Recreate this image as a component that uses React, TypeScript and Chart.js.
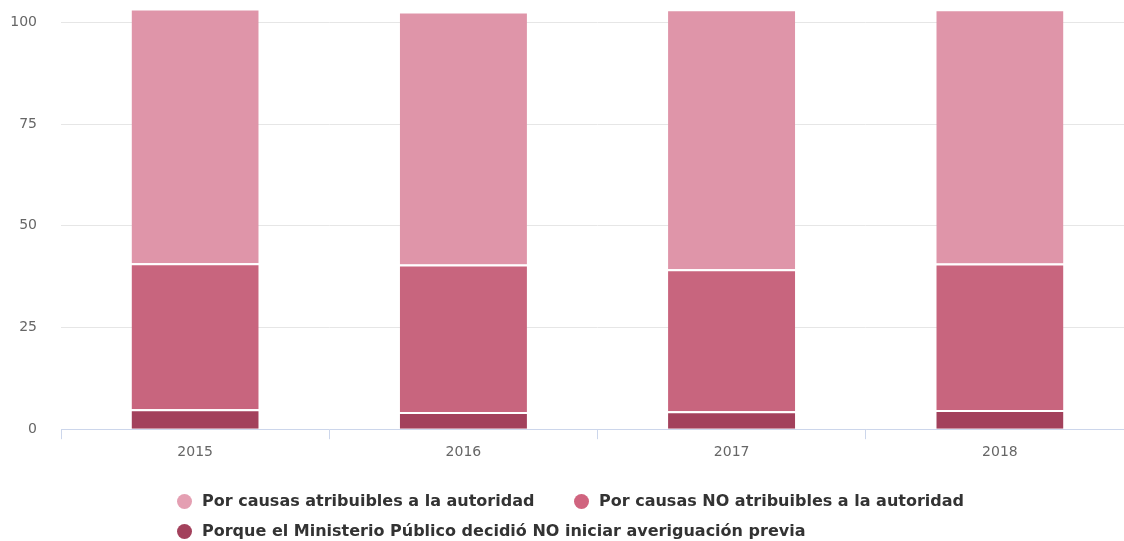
import React, { useEffect, useRef } from "react";
import { Chart, registerables } from "chart.js";

Chart.register(...registerables);

const categories = ["2015", "2016", "2017", "2018"];
const seriesNames = [
  "Por causas atribuibles a la autoridad",
  "Por causas NO atribuibles a la autoridad",
  "Porque el Ministerio Público decidió NO iniciar averiguación previa",
];
const atribuibles = [62.6, 62.2, 63.9, 62.5];
const noAtribuibles = [35.9, 36.3, 34.9, 36.0];
const noIniciar = [4.9, 4.2, 4.4, 4.7];
const yTicks = [0, 25, 50, 75, 100];
const colors = ["#df95a9", "#c8657e", "#a3415c"];
const legendColors = ["#e49fb2", "#d0647f", "#a3415c"];

export default function App() {
  const ref = useRef<HTMLCanvasElement | null>(null);
  useEffect(() => {
    if (!ref.current) return;
    const border = { top: 2 };
    const chart = new Chart(ref.current, {
      type: "bar",
      data: {
        labels: categories,
        datasets: [
          { label: seriesNames[2], data: noIniciar, backgroundColor: colors[2], borderColor: "#ffffff", borderWidth: border, borderSkipped: false },
          { label: seriesNames[1], data: noAtribuibles, backgroundColor: colors[1], borderColor: "#ffffff", borderWidth: border, borderSkipped: false },
          { label: seriesNames[0], data: atribuibles, backgroundColor: colors[0], borderColor: "#ffffff", borderWidth: border, borderSkipped: false },
        ],
      },
      options: {
        animation: false,
        responsive: false,
        maintainAspectRatio: false,
        layout: { padding: { left: 0, right: 0, top: 0, bottom: 75 } },
        plugins: { legend: { display: false }, tooltip: { enabled: false } },
        datasets: { bar: { categoryPercentage: 1, barPercentage: 0.474 } },
        scales: {
          x: {
            stacked: true,
            offset: true,
            grid: { offset: true, drawOnChartArea: false, drawTicks: true, tickLength: 10, color: "#ccd6eb" },
            border: { display: true, color: "#ccd6eb", width: 1 },
            ticks: { color: "#666666", padding: 5, font: { family: "DejaVu Sans", size: 14 } },
          },
          y: {
            stacked: true,
            min: 0,
            max: 105.5,
            afterBuildTicks: (axis: any) => {
              axis.ticks = yTicks.map((v) => ({ value: v }));
            },
            afterFit: (axis: any) => {
              axis.width = 61;
              axis.paddingTop = 0;
              axis.paddingBottom = 0;
            },
            grid: { color: "#e6e6e6", drawTicks: false },
            border: { display: false },
            ticks: { color: "#666666", padding: 24, font: { family: "DejaVu Sans", size: 14 } },
          },
        },
      },
    });
    return () => chart.destroy();
  }, []);

  const legendItem = (i: number, left: number, top: number) => (
    <div
      key={i}
      style={{
        position: "absolute",
        left,
        top,
        display: "flex",
        alignItems: "center",
        whiteSpace: "nowrap",
        fontFamily: "'DejaVu Sans', sans-serif",
        fontWeight: "bold",
        fontSize: 16,
        lineHeight: "20px",
        color: "#333333",
      }}
    >
      <span
        style={{
          display: "inline-block",
          width: 15,
          height: 15,
          borderRadius: 8,
          background: legendColors[i],
          marginRight: 10,
        }}
      />
      <span>{seriesNames[i]}</span>
    </div>
  );

  return (
    <div style={{ position: "fixed", left: 0, top: 0, width: 1124, height: 541, overflow: "hidden", background: "#fff" }}>
      <canvas ref={ref} width={1134} height={541} style={{ position: "absolute", left: 0, top: 0, width: 1134, height: 541 }} />
      {legendItem(0, 177, 491)}
      {legendItem(1, 574, 491)}
      {legendItem(2, 177, 521)}
    </div>
  );
}
